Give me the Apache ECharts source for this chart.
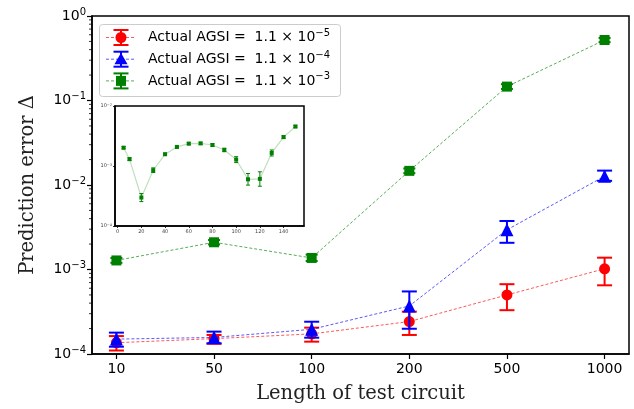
<!DOCTYPE html>
<html><head><meta charset="utf-8">
<script src="https://cdn.jsdelivr.net/npm/echarts@6/dist/echarts.min.js"></script>
<style>html,body{margin:0;padding:0;background:#fff}#c{width:634px;height:409px}</style>
</head><body><div id="c"></div>
<script>
// ---- data ----
const lengths = ['10', '50', '100', '200', '500', '1000'];
const redVal  = [1.36e-4, 1.52e-4, 1.73e-4, 2.42e-4, 5.0e-4, 1.02e-3];
const redLow  = [1.10e-4, 1.32e-4, 1.40e-4, 1.68e-4, 3.3e-4, 6.5e-4];
const redHigh = [1.63e-4, 1.68e-4, 2.05e-4, 3.17e-4, 6.7e-4, 1.38e-3];
const blueVal  = [1.50e-4, 1.57e-4, 1.96e-4, 3.7e-4, 2.95e-3, 1.27e-2];
const blueLow  = [1.22e-4, 1.34e-4, 1.56e-4, 1.99e-4, 2.07e-3, 1.12e-2];
const blueHigh = [1.79e-4, 1.84e-4, 2.41e-4, 5.5e-4, 3.75e-3, 1.48e-2];
const greenVal  = [1.28e-3, 2.10e-3, 1.37e-3, 1.47e-2, 0.146, 0.52];
const greenLow  = [1.20e-3, 1.98e-3, 1.26e-3, 1.38e-2, 0.137, 0.49];
const greenHigh = [1.37e-3, 2.23e-3, 1.50e-3, 1.57e-2, 0.156, 0.55];
const legendExp = ['−5', '−4', '−3'];

const insetX    = [5, 10, 20, 30, 40, 50, 60, 70, 80, 90, 100, 110, 120, 130, 140, 150];
const insetVal  = [2.02e-3, 1.30e-3, 2.98e-4, 8.5e-4, 1.57e-3, 2.08e-3, 2.36e-3, 2.38e-3, 2.24e-3, 1.85e-3, 1.28e-3, 6.0e-4, 6.1e-4, 1.65e-3, 3.03e-3, 4.55e-3];
const insetLow  = [1.93e-3, 1.24e-3, 2.55e-4, 7.8e-4, 1.50e-3, 1.99e-3, 2.26e-3, 2.28e-3, 2.13e-3, 1.73e-3, 1.14e-3, 4.8e-4, 4.6e-4, 1.47e-3, 2.88e-3, 4.35e-3];
const insetHigh = [2.11e-3, 1.37e-3, 3.47e-4, 9.3e-4, 1.64e-3, 2.17e-3, 2.47e-3, 2.49e-3, 2.35e-3, 1.98e-3, 1.43e-3, 7.5e-4, 8.0e-4, 1.85e-3, 3.19e-3, 4.76e-3];
const insetXTicks = [0, 20, 40, 60, 80, 100, 120, 140];

// ---- helpers ----
const RED = '#ff0000', BLUE = '#0000ff', GREEN = '#008000';
function errRender(capHalf, color, width) {
  return function (params, api) {
    const x = api.value(0);
    const lo = api.coord([x, api.value(1)]);
    const hi = api.coord([x, api.value(2)]);
    const st = { stroke: color, lineWidth: width };
    return { type: 'group', children: [
      { type: 'line', shape: { x1: lo[0], y1: lo[1], x2: hi[0], y2: hi[1] }, style: st },
      { type: 'line', shape: { x1: lo[0] - capHalf, y1: lo[1], x2: lo[0] + capHalf, y2: lo[1] }, style: st },
      { type: 'line', shape: { x1: hi[0] - capHalf, y1: hi[1], x2: hi[0] + capHalf, y2: hi[1] }, style: st }
    ]};
  };
}
function mainSeries(name, vals, lows, highs, color, symbol, size, z) {
  const idx = vals.map((v, i) => i);
  return [
    { type: 'custom', xAxisIndex: 0, yAxisIndex: 0, z: z,
      data: idx.map(i => [i, lows[i], highs[i]]),
      renderItem: errRender(color === GREEN ? 6 : 7.5, color, 2), silent: true },
    { type: 'line', name: name, xAxisIndex: 0, yAxisIndex: 0, z: z + 1,
      data: idx.map(i => [i, vals[i]]), symbol: symbol, symbolSize: size,
      itemStyle: { color: color, opacity: 1 },
      lineStyle: { color: color, width: 1, type: [3, 2], opacity: 0.65 },
      animation: false }
  ];
}
function logLabel(size, supSize, color) {
  return {
    formatter: function (v) {
      const e = Math.round(Math.log10(v));
      return '{b|10}{s|' + (e < 0 ? '−' + (-e) : e) + '}';
    },
    rich: {
      b: { fontSize: size, fontFamily: 'DejaVu Sans', color: color },
      s: { fontSize: supSize, fontFamily: 'DejaVu Sans', color: color, padding: [0, 0, size * 0.55, 0] }
    }
  };
}
const minorVals = [];
for (let e = -4; e < 0; e++) for (let m = 2; m <= 9; m++) minorVals.push(m * Math.pow(10, e));

// legend graphics
const legendItems = [
  { color: RED, symbol: 'circle', exp: legendExp[0] },
  { color: BLUE, symbol: 'triangle', exp: legendExp[1] },
  { color: GREEN, symbol: 'rect', exp: legendExp[2] }
];
const legendChildren = [{
  type: 'rect', shape: { x: 99.5, y: 24.5, width: 241, height: 72, r: 3 },
  style: { fill: 'rgba(255,255,255,0.85)', stroke: '#cccccc', lineWidth: 1 }
}];
legendItems.forEach((it, k) => {
  const cy = 37.5 + k * 21.7, cx = 121;
  legendChildren.push({ type: 'line', shape: { x1: 106, y1: cy, x2: 136, y2: cy },
    style: { stroke: it.color, lineWidth: 1, lineDash: [3, 2], opacity: 0.65 } });
  [[cx, cy - 7.5, cx, cy + 7.5], [cx - 7.5, cy - 7.5, cx + 7.5, cy - 7.5], [cx - 7.5, cy + 7.5, cx + 7.5, cy + 7.5]].forEach(s =>
    legendChildren.push({ type: 'line', shape: { x1: s[0], y1: s[1], x2: s[2], y2: s[3] }, style: { stroke: it.color, lineWidth: 2 } }));
  if (it.symbol === 'circle') legendChildren.push({ type: 'circle', shape: { cx: cx, cy: cy, r: 5.5 }, style: { fill: it.color } });
  else if (it.symbol === 'triangle') legendChildren.push({ type: 'polygon', shape: { points: [[cx, cy - 6.5], [cx - 6.5, cy + 5], [cx + 6.5, cy + 5]] }, style: { fill: it.color } });
  else legendChildren.push({ type: 'rect', shape: { x: cx - 5, y: cy - 5, width: 10, height: 10 }, style: { fill: it.color } });
  legendChildren.push({ type: 'text', x: 148, y: cy, style: {
    text: '{t|Actual AGSI =  1.1 × 10}{s|' + it.exp + '}', verticalAlign: 'middle',
    rich: { t: { fontSize: 14, fontFamily: 'DejaVu Sans', fill: '#000' },
            s: { fontSize: 10, fontFamily: 'DejaVu Sans', fill: '#000', padding: [0, 0, 8, 0] } } } });
});

const titleFont = { fontFamily: 'DejaVu Serif', fontSize: 19.5, color: '#222' };
const option = {
  animation: false,
  backgroundColor: '#fff',
  grid: [
    { left: 92, top: 16, width: 537, height: 338, show: true, borderColor: '#000', borderWidth: 1.5, backgroundColor: 'transparent' },
    { left: 115, top: 106, width: 189, height: 120, show: true, borderColor: '#000', borderWidth: 1.5, backgroundColor: '#fff', z: 10 }
  ],
  xAxis: [
    { type: 'value', gridIndex: 0, min: -0.25, max: 5.25,
      name: 'Length of test circuit', nameLocation: 'middle', nameGap: 30, nameTextStyle: titleFont,
      axisLine: { onZero: false, lineStyle: { color: '#000', width: 1.5 } },
      axisTick: { length: 5, lineStyle: { color: '#000', width: 1.2 }, customValues: [0, 1, 2, 3, 4, 5] },
      axisLabel: { customValues: [0, 1, 2, 3, 4, 5], formatter: v => lengths[Math.round(v)], fontSize: 14, fontFamily: 'DejaVu Sans', color: '#000', margin: 8 },
      splitLine: { show: false } },
    { type: 'value', gridIndex: 1, min: -2.25, max: 157.25, z: 11,
      axisLine: { onZero: false, lineStyle: { color: '#000', width: 1.5 } },
      axisTick: { length: 2, lineStyle: { color: '#000', width: 0.8 }, customValues: insetXTicks },
      axisLabel: { customValues: insetXTicks, fontSize: 5, fontFamily: 'DejaVu Sans', color: '#444', margin: 3 },
      splitLine: { show: false } }
  ],
  yAxis: [
    { type: 'log', gridIndex: 0, min: 1e-4, max: 1, logBase: 10, splitNumber: 4,
      name: 'Prediction error Δ', nameLocation: 'middle', nameGap: 54, nameTextStyle: titleFont,
      axisLine: { onZero: false, lineStyle: { color: '#000', width: 1.5 } },
      axisTick: { length: 5, lineStyle: { color: '#000', width: 1.2 } },
      axisLabel: Object.assign({ margin: 6 }, logLabel(14, 10, '#000')),
      splitLine: { show: false } },
    { type: 'log', gridIndex: 1, min: 1e-4, max: 1e-2, logBase: 10, z: 11,
      axisLine: { onZero: false, lineStyle: { color: '#000', width: 1.5 } },
      axisTick: { length: 2, lineStyle: { color: '#000', width: 0.8 } },
      axisLabel: Object.assign({ margin: 3 }, logLabel(5, 3.5, '#444')),
      splitLine: { show: false } }
  ],
  series: [
    { type: 'custom', xAxisIndex: 0, yAxisIndex: 0, silent: true, z: 1,
      data: minorVals.map(v => [-0.25, v]),
      renderItem: function (params, api) {
        const p = api.coord([api.value(0), api.value(1)]);
        return { type: 'line', shape: { x1: p[0] - 3, y1: p[1], x2: p[0], y2: p[1] }, style: { stroke: '#000', lineWidth: 0.8 } };
      } },
    ...mainSeries('r', redVal, redLow, redHigh, RED, 'circle', 11, 2),
    ...mainSeries('b', blueVal, blueLow, blueHigh, BLUE, 'triangle', 13, 4),
    ...mainSeries('g', greenVal, greenLow, greenHigh, GREEN, 'rect', 10, 6),
    { type: 'line', xAxisIndex: 1, yAxisIndex: 1, z: 12,
      data: insetX.map((x, i) => [x, insetVal[i]]), symbol: 'none',
      lineStyle: { color: GREEN, width: 1.2, opacity: 0.25 } },
    { type: 'custom', xAxisIndex: 1, yAxisIndex: 1, z: 13, silent: true,
      data: insetX.map((x, i) => [x, insetLow[i], insetHigh[i]]),
      renderItem: errRender(2, GREEN, 1) },
    { type: 'scatter', xAxisIndex: 1, yAxisIndex: 1, z: 14,
      data: insetX.map((x, i) => [x, insetVal[i]]), symbol: 'rect', symbolSize: 4,
      itemStyle: { color: GREEN, opacity: 1 } }
  ],
  graphic: [{ type: 'group', z: 100, children: legendChildren }]
};
const chart = echarts.init(document.getElementById('c'), null, { renderer: 'canvas' });
chart.setOption(option);
</script></body></html>
